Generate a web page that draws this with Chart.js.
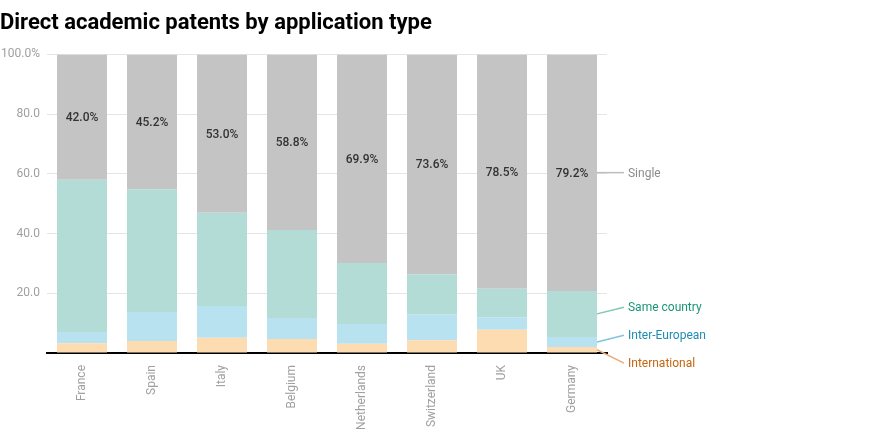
<!DOCTYPE html>
<html>
<head>
<meta charset="utf-8">
<script src="https://cdn.jsdelivr.net/npm/chart.js@4"></script>
<style>
  html, body { margin: 0; padding: 0; background: #fff; }
  #wrap { width: 870px; height: 438px; }
</style>
</head>
<body>
<div id="wrap"><canvas id="chart"></canvas></div>
<script>
const countries = ["France", "Spain", "Italy", "Belgium", "Netherlands", "Switzerland", "UK", "Germany"];
const international = [3.3, 4.0, 5.1, 4.7, 3.1, 4.3, 7.8, 2.0];
const interEuropean = [3.7, 9.7, 10.6, 7.0, 6.6, 8.7, 4.2, 3.4];
const sameCountry = [51.0, 41.1, 31.3, 29.5, 20.4, 13.4, 9.5, 15.4];
const single = [42.0, 45.2, 53.0, 58.8, 69.9, 73.6, 78.5, 79.2];
const yTicks = [0, 20, 40, 60, 80, 100];

// labels on the right, with a short line back to the last bar
const sideLabels = {
    id: 'sideLabels',
    afterDatasetsDraw(chart) {
        const ctx = chart.ctx;
        const items = [];
        chart.data.datasets.forEach((ds, i) => {
            const meta = chart.getDatasetMeta(i);
            const el = meta.data[meta.data.length - 1];
            const y = (el.y + el.base) / 2;
            items.push({ ds: ds, x: el.x + el.width / 2, y0: y, y: y });
        });
        items.sort((a, b) => a.y0 - b.y0);
        // push apart overlapping labels, centred on their targets
        const gap = 28;
        let groups = items.map(it => [it]);
        let moved = true;
        while (moved) {
            moved = false;
            for (let g = 0; g < groups.length; g++) {
                const grp = groups[g];
                const mean = grp.reduce((s, it) => s + it.y0, 0) / grp.length;
                const start = mean - (grp.length - 1) * gap / 2;
                grp.forEach((it, k) => it.y = start + k * gap);
            }
            for (let g = 0; g < groups.length - 1; g++) {
                const a = groups[g], b = groups[g + 1];
                if (b[0].y - a[a.length - 1].y < gap) {
                    groups.splice(g, 2, a.concat(b));
                    moved = true;
                    break;
                }
            }
        }
        ctx.save();
        ctx.font = '12px Roboto';
        ctx.textBaseline = 'middle';
        ctx.textAlign = 'left';
        items.forEach(it => {
            ctx.strokeStyle = it.ds.lineColor;
            ctx.lineWidth = 1.5;
            ctx.beginPath();
            ctx.moveTo(it.x, it.y0);
            ctx.lineTo(it.x + 27, it.y);
            ctx.stroke();
            ctx.fillStyle = it.ds.textColor;
            ctx.fillText(it.ds.label, it.x + 31, it.y + 1);
        });
        ctx.restore();
    }
};

// percentage labels inside the grey segment
const singleLabels = {
    id: 'singleLabels',
    afterDatasetsDraw(chart) {
        const ctx = chart.ctx;
        const meta = chart.getDatasetMeta(3);
        ctx.save();
        ctx.font = '500 12px Roboto';
        ctx.fillStyle = '#333';
        ctx.textAlign = 'center';
        ctx.textBaseline = 'middle';
        meta.data.forEach((el, i) => {
            ctx.fillText(single[i].toFixed(1) + '%', el.x, (el.y + el.base) / 2 + 1);
        });
        ctx.restore();
    }
};

new Chart(document.getElementById('chart'), {
    type: 'bar',
    data: {
        labels: countries,
        datasets: [
            { label: 'International', data: international, backgroundColor: '#fddcb1', textColor: '#c5650f', lineColor: '#e9ac7a' },
            { label: 'Inter-European', data: interEuropean, backgroundColor: '#b9e2f1', textColor: '#1d8cb3', lineColor: '#80c5de' },
            { label: 'Same country', data: sameCountry, backgroundColor: '#b3dcd6', textColor: '#1b9477', lineColor: '#7fc6b5' },
            { label: 'Single', data: single, backgroundColor: '#c4c4c4', textColor: '#8c8c8c', lineColor: '#bdbdbd' }
        ]
    },
    options: {
        responsive: true,
        maintainAspectRatio: false,
        animation: false,
        datasets: { bar: { barPercentage: 0.714, categoryPercentage: 1.0, borderWidth: 0 } },
        layout: { padding: { top: 0, left: 0, right: 263, bottom: 0 } },
        plugins: {
            legend: { display: false },
            tooltip: { enabled: false },
            title: {
                display: true,
                text: 'Direct academic patents by application type',
                align: 'start',
                color: '#000',
                font: { family: 'Roboto', size: 22, weight: 'bold' },
                padding: { top: 10, bottom: 18 }
            }
        },
        scales: {
            x: {
                stacked: true,
                grid: { display: false },
                border: { display: true, color: '#000', width: 2 },
                ticks: {
                    color: '#a0a0a0',
                    font: { family: 'Roboto', size: 12 },
                    minRotation: 90,
                    maxRotation: 90,
                    padding: 4
                },
                afterFit(scale) { scale.height = 85; }
            },
            y: {
                stacked: true,
                min: 0,
                max: 100,
                z: 1,
                afterBuildTicks(scale) { scale.ticks = yTicks.map(v => ({ value: v })); },
                grid: { color: 'rgba(0,0,0,0.1)', drawTicks: false },
                border: { display: false },
                ticks: {
                    color: '#a0a0a0',
                    font: { family: 'Roboto', size: 12 },
                    padding: 7,
                    callback: function(value) {
                        if (value === 0) return '';
                        if (value === 100) return '100.0%';
                        return value.toFixed(1);
                    }
                },
                afterFit(scale) { scale.width = 47; }
            }
        }
    },
    plugins: [singleLabels, sideLabels]
});
</script>
</body>
</html>
